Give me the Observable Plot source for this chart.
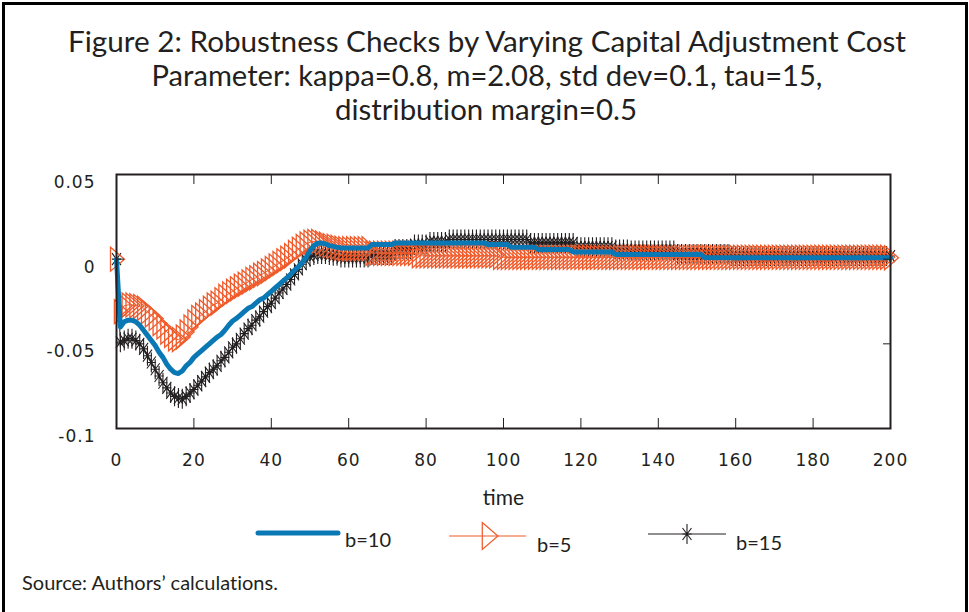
<!DOCTYPE html>
<html>
<head>
<meta charset="utf-8">
<script src="https://cdn.jsdelivr.net/npm/d3@7"></script>
<script src="https://cdn.jsdelivr.net/npm/@observablehq/plot@0.6"></script>
<style>
  body { margin: 0; background: #fff; }
  #wrap { position: relative; width: 969px; height: 612px; overflow: hidden; background: #fff; }
  #border { position: absolute; left: 2px; top: 2px; width: 966px; height: 640px; border: 3px solid #000; border-bottom: none; box-sizing: border-box; }
  #title { position: absolute; left: 0; top: 0; font-variant-ligatures: none; }
  #chart { position: absolute; left: 0; top: 140px; }
  #legend { position: absolute; left: 0; top: 505px; }
  #source { position: absolute; left: 22px; top: 570px; font-family: Lato, "Noto Sans", sans-serif; font-size: 20px; color: #231f20; font-variant-ligatures: none; }
  #chart g[aria-label="x-axis tick label"] text,
  #chart g[aria-label="y-axis tick label"] text { letter-spacing: 1px; }
  #chart g[aria-label="x-axis label"] text { font-family: Lato, "Noto Sans", sans-serif; font-size: 21px; }
</style>
</head>
<body>
<div id="wrap">
  <div id="border"></div>
  <svg id="title" width="969" height="140" font-family="Lato, 'Noto Sans', sans-serif" font-size="29" fill="#231f20" text-anchor="middle">
    <text x="487" y="52" textLength="838" lengthAdjust="spacingAndGlyphs">Figure 2: Robustness Checks by Varying Capital Adjustment Cost</text>
    <text x="487" y="86" textLength="671" lengthAdjust="spacingAndGlyphs">Parameter: kappa=0.8, m=2.08, std dev=0.1, tau=15,</text>
    <text x="486" y="120" textLength="302" lengthAdjust="spacingAndGlyphs">distribution margin=0.5</text>
  </svg>
  <div id="chart"></div>
  <div id="legend"></div>
  <div id="source">Source: Authors’ calculations.</div>
</div>
<script>
// ---- data ----
const time = d3.range(0, 201);

const b10 = [
  0, -0.040, -0.037, -0.036, -0.036, -0.037, -0.039, -0.042, -0.045, -0.048,
  -0.051, -0.055, -0.058, -0.062, -0.065, -0.067, -0.0675, -0.066, -0.063, -0.061,
  -0.058, -0.056, -0.054, -0.052, -0.050, -0.048, -0.046, -0.0445, -0.042, -0.039,
  -0.0365, -0.035, -0.033, -0.031, -0.029, -0.028, -0.026, -0.024, -0.023, -0.021,
  -0.019, -0.017, -0.015, -0.013, -0.011, -0.009, -0.0065, -0.0045, -0.002, 0.001,
  0.005, 0.008, 0.0094, 0.0095, 0.009, 0.008, 0.0076, 0.007, 0.0066, 0.0066,
  0.0066, 0.0066, 0.0066, 0.0066, 0.0066, 0.0066, 0.0086, 0.0086, 0.0086, 0.0086,
  0.0086, 0.0086, 0.0096, 0.0096, 0.0096, 0.0096, 0.0096, 0.0096, 0.0096, 0.0096,
  0.0096, 0.0096, 0.0096, 0.0096, 0.0096, 0.0096, 0.0096, 0.0096, 0.0096, 0.0096,
  0.0096, 0.0096, 0.0096, 0.0096, 0.0096, 0.0096, 0.0086, 0.0086, 0.0086, 0.0086,
  0.0086, 0.0086, 0.0071, 0.0071, 0.0071, 0.0071, 0.0071, 0.0071, 0.0071, 0.0057,
  0.0057, 0.0057, 0.0057, 0.0057, 0.0057, 0.0057, 0.0057, 0.0057, 0.0043, 0.0043,
  0.0043, 0.0043, 0.0043, 0.0043, 0.0043, 0.0043, 0.0043, 0.0043, 0.0043, 0.0028,
  0.0028, 0.0028, 0.0028, 0.0028, 0.0028, 0.0028, 0.0028, 0.0028, 0.0028, 0.0028,
  0.0028, 0.0028, 0.0028, 0.0028, 0.0028, 0.0028, 0.0028, 0.0028, 0.0028, 0.0028,
  0.0028, 0.0028, 0.0008, 0.0008, 0.0008, 0.0008, 0.0008, 0.0008, 0.0008, 0.0008,
  0.0008, 0.0008, 0.0008, 0.0008, 0.0008, 0.0008, 0.0008, 0.0008, 0.0008, 0.0008,
  0.0008, 0.0008, 0.0008, 0.0008, 0.0008, 0.0008, 0.0008, 0.0008, 0.0008, 0.0008,
  0.0008, 0.0008, 0.0008, 0.0008, 0.0008, 0.0008, 0.0008, 0.0008, 0.0008, 0.0008,
  0.0008, 0.0008, 0.0008, 0.0008, 0.0008, 0.0008, 0.0008, 0.0008, 0.0008, 0.0008,
  0.0008
];

const b5 = [
  0, -0.031, -0.0275, -0.027, -0.027, -0.0275, -0.028, -0.029, -0.031, -0.033,
  -0.035, -0.038, -0.040, -0.043, -0.045, -0.047, -0.0475, -0.046, -0.043, -0.040,
  -0.037, -0.0345, -0.033, -0.031, -0.029, -0.027, -0.026, -0.024, -0.022, -0.0205,
  -0.019, -0.0175, -0.016, -0.0148, -0.0135, -0.012, -0.011, -0.0095, -0.0085, -0.007,
  -0.0055, -0.004, -0.0025, -0.001, 0.0005, 0.002, 0.004, 0.0058, 0.0075, 0.009,
  0.010, 0.0105, 0.0105, 0.0095, 0.0088, 0.008, 0.0076, 0.007, 0.0065, 0.0062,
  0.0062, 0.0062, 0.0062, 0.0062, 0.0062, 0.0062, 0.0035, 0.0035, 0.0035, 0.0035,
  0.0035, 0.0035, 0.0035, 0.0035, 0.0035, 0.0035, 0.0035, 0.0035, 0.002, 0.002,
  0.002, 0.002, 0.002, 0.002, 0.002, 0.002, 0.002, 0.002, 0.002, 0.002,
  0.002, 0.002, 0.002, 0.002, 0.002, 0.002, 0.002, 0.002, 0.002, 0.0011,
  0.0011, 0.0011, 0.0011, 0.0011, 0.0011, 0.0011, 0.0011, 0.0011, 0.0011, 0.0011,
  0.0011, 0.0011, 0.0011, 0.0011, 0.0011, 0.0011, 0.0011, 0.0011, 0.0011, 0.0011,
  0.0011, 0.0011, 0.0011, 0.0011, 0.0011, 0.0011, 0.0011, 0.0011, 0.0011, 0.0011,
  0.0011, 0.0011, 0.0011, 0.0011, 0.0011, 0.0011, 0.0011, 0.0011, 0.0011, 0.0011,
  0.0011, 0.0011, 0.0011, 0.0011, 0.0011, 0.0011, 0.0011, 0.0011, 0.0011, 0.0011,
  0.0011, 0.0011, 0.0011, 0.0011, 0.0011, 0.0011, 0.0011, 0.0011, 0.0011, 0.0011,
  0.0011, 0.0011, 0.0011, 0.0011, 0.0011, 0.0011, 0.0011, 0.0011, 0.0011, 0.0011,
  0.0011, 0.0011, 0.0011, 0.0011, 0.0011, 0.0011, 0.0011, 0.0011, 0.0011, 0.0011,
  0.0011, 0.0011, 0.0011, 0.0011, 0.0011, 0.0011, 0.0011, 0.0011, 0.0011, 0.0011,
  0.0011, 0.0011, 0.0011, 0.0011, 0.0011, 0.0011, 0.0011, 0.0011, 0.0011, 0.0011,
  0.0008
];

const b15 = [
  0, -0.049, -0.048, -0.047, -0.047, -0.048, -0.050, -0.053, -0.057, -0.061,
  -0.065, -0.069, -0.073, -0.076, -0.079, -0.081, -0.082, -0.0825, -0.081, -0.079,
  -0.077, -0.0745, -0.072, -0.0695, -0.067, -0.065, -0.063, -0.060, -0.058, -0.055,
  -0.052, -0.050, -0.047, -0.044, -0.041, -0.039, -0.036, -0.034, -0.031, -0.028,
  -0.026, -0.023, -0.020, -0.0176, -0.015, -0.012, -0.009, -0.006, -0.003, -0.0005,
  0.0015, 0.0025, 0.003, 0.003, 0.003, 0.0025, 0.002, 0.002, 0.001, 0.001,
  0.001, 0.001, 0.001, 0.001, 0.001, 0.001, 0.0025, 0.0025, 0.0025, 0.0025,
  0.0025, 0.0025, 0.006, 0.006, 0.006, 0.006, 0.006, 0.0086, 0.0086, 0.0086,
  0.0086, 0.0102, 0.0102, 0.0102, 0.0102, 0.0102, 0.0116, 0.0116, 0.0116, 0.0116,
  0.0116, 0.0116, 0.0116, 0.0116, 0.0116, 0.0116, 0.0116, 0.0116, 0.0116, 0.0116,
  0.0116, 0.0116, 0.0116, 0.0116, 0.0116, 0.0116, 0.0116, 0.0096, 0.0096, 0.0096,
  0.0096, 0.0096, 0.0096, 0.0096, 0.0096, 0.0096, 0.0096, 0.0096, 0.0096, 0.0071,
  0.0071, 0.0071, 0.0071, 0.0071, 0.0071, 0.0071, 0.0071, 0.0071, 0.0071, 0.0057,
  0.0057, 0.0057, 0.0057, 0.0051, 0.0051, 0.0051, 0.0051, 0.0051, 0.0051, 0.0051,
  0.0051, 0.0051, 0.0051, 0.0051, 0.0051, 0.0031, 0.0031, 0.0031, 0.0031, 0.0031,
  0.0031, 0.0031, 0.0031, 0.0031, 0.0031, 0.0031, 0.0031, 0.0031, 0.0031, 0.0018,
  0.0018, 0.0018, 0.0018, 0.0018, 0.0018, 0.0018, 0.0018, 0.0018, 0.0018, 0.0018,
  0.0018, 0.0018, 0.0018, 0.0018, 0.0018, 0.0018, 0.0018, 0.0018, 0.0018, 0.0018,
  0.0018, 0.0018, 0.0018, 0.0018, 0.0018, 0.0018, 0.0018, 0.0018, 0.0018, 0.0018,
  0.0018, 0.0018, 0.0018, 0.0018, 0.0018, 0.0018, 0.0018, 0.0018, 0.0018, 0.0018,
  0.0018
];

const xTicks = [0, 20, 40, 60, 80, 100, 120, 140, 160, 180, 200];
const yTicks = [-0.1, -0.05, 0, 0.05];
const yTickLabels = ["-0.1", "-0.05", "0", "0.05"];
const seriesNames = ["b=10", "b=5", "b=15"];
const xLabel = "time";

// ---- styles ----
const colBlue = "#0a78b4", colOrange = "#f05a2a", colBlack = "#231f20";

const triRight = { draw(ctx) { ctx.moveTo(-6, -12); ctx.lineTo(8, 0); ctx.lineTo(-6, 12); ctx.closePath(); } };
const asterisk = { draw(ctx) {
  ctx.moveTo(0, -10); ctx.lineTo(0, 10);
  ctx.moveTo(-4.5, -6); ctx.lineTo(4.5, 6);
  ctx.moveTo(-4.5, 6); ctx.lineTo(4.5, -6);
  ctx.moveTo(-4.5, 0); ctx.lineTo(4.5, 0);
} };

const rows = (arr) => time.map((t, i) => ({ t, v: arr[i] }));
const d10 = rows(b10), d5 = rows(b5), d15 = rows(b15);

const chart = Plot.plot({
  width: 969,
  height: 370,
  marginLeft: 116,
  marginRight: 79,
  marginTop: 34,
  marginBottom: 82,
  x: { domain: [0, 200] },
  y: { domain: [-0.1, 0.05] },
  style: { fontFamily: "'DejaVu Sans', sans-serif", fontSize: "17px", color: "#231f20", background: "transparent", overflow: "visible" },
  marks: [
    Plot.line(d15, { x: "t", y: "v", stroke: colBlack, strokeWidth: 1 }),
    Plot.dot(d15, { x: "t", y: "v", symbol: asterisk, stroke: colBlack, fill: "none", strokeWidth: 1.1, r: 5 }),
    Plot.line(d5, { x: "t", y: "v", stroke: colOrange, strokeWidth: 1 }),
    Plot.dot(d5, { x: "t", y: "v", symbol: triRight, stroke: colOrange, fill: "none", strokeWidth: 1.3, r: 5 }),
    Plot.line(d10, { x: "t", y: "v", stroke: colBlue, strokeWidth: 5, strokeLinejoin: "round" }),
    Plot.frame({ stroke: "#231f20", strokeWidth: 2 }),
    Plot.axisX({ anchor: "bottom", ticks: xTicks, tickSize: -10, tickFormat: () => "", label: null }),
    Plot.axisX({ anchor: "top", ticks: xTicks, tickSize: -9, tickFormat: () => "", label: null }),
    Plot.axisY({ anchor: "left", ticks: yTicks, tickSize: -8, tickFormat: () => "", label: null }),
    Plot.axisY({ anchor: "right", ticks: yTicks, tickSize: -8, tickFormat: () => "", label: null }),
    Plot.axisX({ anchor: "bottom", ticks: xTicks, tickSize: 0, tickPadding: 25, tickFormat: d => String(d),
                 label: xLabel, labelAnchor: "center", labelOffset: 76, labelArrow: "none" }),
    Plot.axisY({ anchor: "left", ticks: yTicks, tickSize: 0, tickPadding: 21, dy: 8,
                 tickFormat: (d) => yTickLabels[yTicks.indexOf(d)], label: null })
  ]
});
document.getElementById("chart").appendChild(chart);

// ---- legend ----
const leg = d3.select("#legend").append("svg").attr("width", 969).attr("height", 60)
  .attr("font-family", "Lato, 'Noto Sans', sans-serif").attr("font-size", 20).attr("fill", "#231f20");
leg.append("line").attr("x1", 258).attr("x2", 338).attr("y1", 28).attr("y2", 28)
  .attr("stroke", colBlue).attr("stroke-width", 5).attr("stroke-linecap", "round");
leg.append("text").attr("x", 345).attr("y", 42).text(seriesNames[0]);

leg.append("line").attr("x1", 449).attr("x2", 526).attr("y1", 31).attr("y2", 31)
  .attr("stroke", colOrange).attr("stroke-width", 1.2);
leg.append("path").attr("transform", "translate(489,31) scale(1.12)")
  .attr("d", d3.symbol(triRight)()).attr("fill", "none").attr("stroke", colOrange).attr("stroke-width", 1.1);
leg.append("text").attr("x", 537).attr("y", 47).text(seriesNames[1]);

leg.append("line").attr("x1", 648).attr("x2", 726).attr("y1", 29).attr("y2", 29)
  .attr("stroke", colBlack).attr("stroke-width", 1.2);
leg.append("path").attr("transform", "translate(687,29)")
  .attr("d", d3.symbol(asterisk)()).attr("fill", "none").attr("stroke", colBlack).attr("stroke-width", 1.1);
leg.append("text").attr("x", 736).attr("y", 45).text(seriesNames[2]);
</script>
</body>
</html>
